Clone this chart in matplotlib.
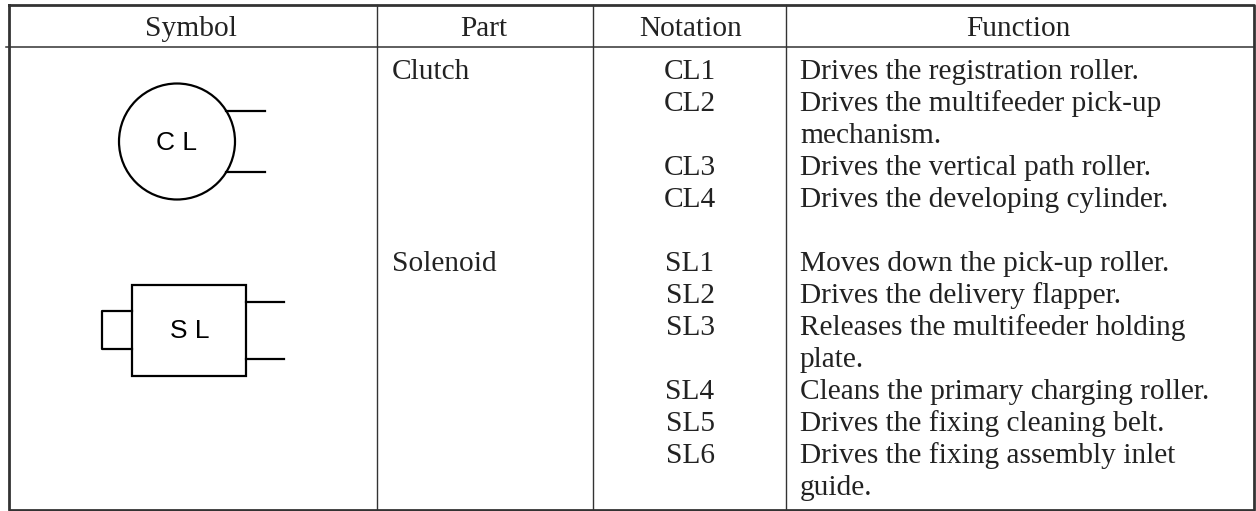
import matplotlib
matplotlib.use('Agg')
import matplotlib.pyplot as plt
from matplotlib.patches import Circle, Rectangle

W = 1256
H = 511

headers = ['Symbol', 'Part', 'Notation', 'Function']
parts = ['Clutch', 'Solenoid']
notations = ['CL1', 'CL2', 'CL3', 'CL4', 'SL1', 'SL2', 'SL3', 'SL4', 'SL5', 'SL6']
functions = [
    'Drives the registration roller.',
    'Drives the multifeeder pick-up\nmechanism.',
    'Drives the vertical path roller.',
    'Drives the developing cylinder.',
    'Moves down the pick-up roller.',
    'Drives the delivery flapper.',
    'Releases the multifeeder holding\nplate.',
    'Cleans the primary charging roller.',
    'Drives the fixing cleaning belt.',
    'Drives the fixing assembly inlet\nguide.',
]
# text baselines in picture pixels
row_y = [79, 111, 175, 207, 271, 303, 335, 399, 431, 463]
part_y = [79, 271]

plt.rcParams['font.family'] = ['Liberation Serif']
fs = 21.2
ink = '#222222'

fig = plt.figure(figsize=(W / 100, H / 100), dpi=100)
ax = fig.add_axes([0, 0, 1, 1])
ax.set_xlim(0, W)
ax.set_ylim(H, 0)
ax.axis('off')

# table lines
ax.plot([9, 1254, 1254, 9, 9], [5, 5, 510, 510, 5], color='#333333', lw=2.0)
ax.plot([6, 1254], [47, 47], color='#333333', lw=1.1)
for x in [377, 593, 786]:
    ax.plot([x, x], [5, 510], color='#333333', lw=1.0)

for x, h in zip([191, 484, 691, 1018], headers):
    ax.text(x, 36, h, ha='center', va='baseline', fontsize=fs, color=ink)

for y, p in zip(part_y, parts):
    ax.text(392, y, p, ha='left', va='baseline', fontsize=fs, color=ink)

for y, n, f in zip(row_y, notations, functions):
    ax.text(690, y, n, ha='center', va='baseline', fontsize=fs, color=ink)
    # wrapped cells get one text per line, 32 px apart
    for i, line in enumerate(f.split('\n')):
        ax.text(800, y + i * 32, line, ha='left', va='baseline', fontsize=fs, color=ink)

# clutch symbol
ax.add_patch(Circle((177, 141.5), 58, fill=False, ec='black', lw=1.6))
ax.plot([226, 265], [111, 111], color='black', lw=1.6)
ax.plot([226, 265], [172, 172], color='black', lw=1.6)
ax.text(176.5, 150, 'C L', ha='center', va='baseline', fontsize=19, family='Liberation Sans', color='black')

# solenoid symbol
ax.add_patch(Rectangle((132, 285), 114, 91, fill=False, ec='black', lw=1.6))
ax.plot([132, 102, 102, 132], [311, 311, 349, 349], color='black', lw=1.6)
ax.plot([246, 284], [302, 302], color='black', lw=1.6)
ax.plot([246, 284], [359, 359], color='black', lw=1.6)
ax.text(189.5, 338, 'S L', ha='center', va='baseline', fontsize=19, family='Liberation Sans', color='black')

fig.savefig('out.png', dpi=100)
